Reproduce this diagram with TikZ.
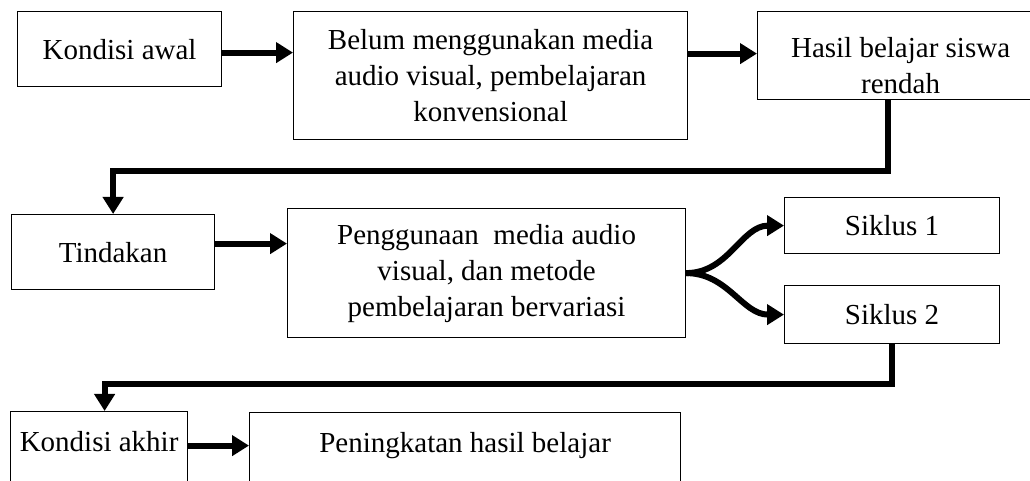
\documentclass[tikz,border=0pt]{standalone}
\usepackage{fontspec}
\setmainfont{Liberation Serif}
\usetikzlibrary{arrows.meta, positioning, calc}
\tikzset{box/.style={rectangle,draw,line width=0.6pt,align=center,anchor=north west,inner sep=2pt,font=\fontsize{14.5}{18}\selectfont},
         lowtext/.style={text height=10pt,text depth=25pt},
         arrow/.style={-{Triangle[length=8.5pt,width=10pt]},line width=3pt},
         link/.style={arrow,line width=3pt}}

\begin{document}
\begin{tikzpicture}[x=0.5pt,y=-0.5pt]
    \useasboundingbox (0,0) rectangle (1030,481);
    \clip (0,0) rectangle (1030,481);
    % Kondisi awal
    \node (awal) [box, minimum width=102pt, minimum height=37.5pt] at (17,11) {Kondisi awal};
    \node (belum) [box, minimum width=197pt, minimum height=64pt] at (293,11) {Belum menggunakan media\\audio visual, pembelajaran\\konvensional};
    \node (hasil) [box, minimum width=143pt, minimum height=44pt, text height=38pt] at (757,11) {Hasil belajar siswa\\rendah};
    % Tindakan
    \node (tindakan) [box, minimum width=101.5pt, minimum height=37.5pt] at (11,214) {Tindakan};
    \node (peng) [box, minimum width=199pt, minimum height=64.5pt] at (287,208) {Penggunaan\ \ media audio\\visual, dan metode\\pembelajaran bervariasi};
    \node (siklus1) [box, minimum width=107.5pt, minimum height=28pt] at (784,197) {Siklus 1};
    \node (siklus2) [box, minimum width=107.5pt, minimum height=29pt] at (784,285) {Siklus 2};
    % Kondisi akhir
    \node (akhir) [box, lowtext, minimum width=88.5pt, minimum height=55pt] at (10,411) {Kondisi akhir};
    \node (pen) [box, lowtext, minimum width=215.5pt, minimum height=55pt] at (249,412) {Peningkatan hasil belajar};

    \draw[arrow] ([yshift=-1.75pt]awal.east) -- ([yshift=-1.75pt]awal.east -| belum.west);
    \draw[arrow] ([yshift=1pt]hasil.west -| belum.east) -- ([yshift=1pt]hasil.west);
    \draw[link] ([xshift=-6.5pt]hasil.south) -- ++(0,-35.5pt) -| (tindakan.north);
    \draw[arrow] ([yshift=4.25pt]tindakan.east) -- ([yshift=4.25pt]tindakan.east -| peng.west);
    \draw[arrow] (peng.east) to[out=0,in=180] (siklus1.west);
    \draw[arrow] (peng.east) to[out=0,in=180] (siklus2.west);
    \draw[link] (siklus2.south) -- ++(0,-20pt) -| ([xshift=2.75pt]akhir.north);
    \draw[arrow] ([yshift=10.5pt]akhir.east) -- ([yshift=10.5pt]akhir.east -| pen.west);
\end{tikzpicture}
\end{document}
